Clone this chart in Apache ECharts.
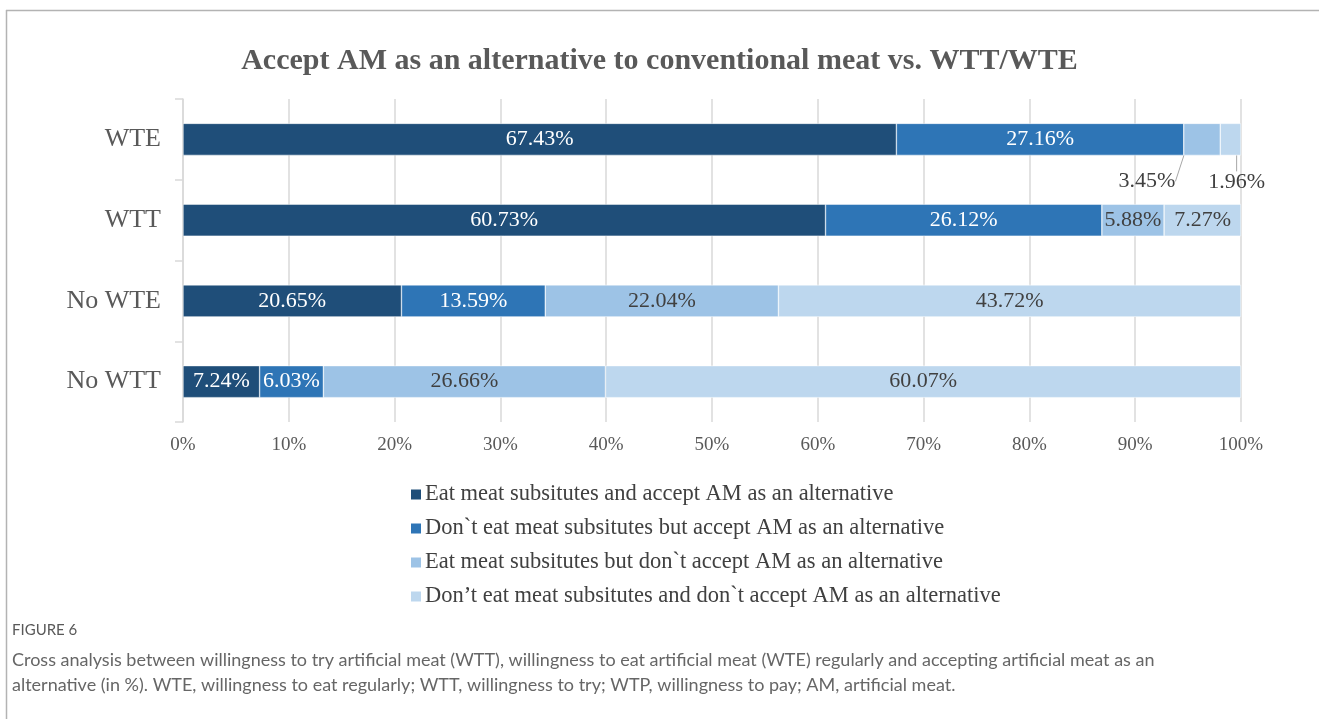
<!DOCTYPE html>
<html>
<head>
<meta charset="utf-8">
<title>Accept AM vs. WTT/WTE</title>
<script src="https://cdn.jsdelivr.net/npm/echarts@6/dist/echarts.min.js"></script>
<style>
  html, body { margin: 0; padding: 0; background: #fff; }
  #main { width: 1319px; height: 719px; }
</style>
</head>
<body>
<div id="main"></div>
<script>
// categories, bottom to top as drawn
var groups = ['No WTT', 'No WTE', 'WTT', 'WTE'];
var seriesNames = [
  'Eat meat subsitutes and accept AM as an alternative',
  'Don`t eat meat subsitutes but accept AM as an alternative',
  'Eat meat subsitutes but don`t accept AM as an alternative',
  'Don\u2019t eat meat subsitutes and don`t accept AM as an alternative'
];
var eatAccept = [7.24, 20.65, 60.73, 67.43];
var noEatAccept = [6.03, 13.59, 26.12, 27.16];
var eatNoAccept = [26.66, 22.04, 5.88, 3.45];
var noEatNoAccept = [60.07, 43.72, 7.27, 1.96];
var xTicks = [0, 10, 20, 30, 40, 50, 60, 70, 80, 90, 100];

var colors = ['#1f4e79', '#2e75b6', '#9dc3e6', '#bdd7ee'];
var serif = '"Liberation Serif", "DejaVu Serif", serif';

var chart = echarts.init(document.getElementById('main'));

function makeSeries(idx, values, textColor, layout) {
  var s = {
    name: seriesNames[idx],
    type: 'bar',
    stack: 'total',
    barWidth: 32,
    data: values,
    itemStyle: { color: colors[idx], borderColor: '#fff', borderWidth: 0.5 },
    label: {
      show: true,
      position: 'inside',
      color: textColor,
      fontFamily: serif,
      fontSize: 22,
      formatter: function(p) { return p.value.toFixed(2) + '%'; }
    },
    emphasis: { disabled: true }
  };
  if (layout) {
    s.labelLayout = layout;
    s.labelLine = { show: true, lineStyle: { color: '#a6a6a6', width: 1 } };
  }
  return s;
}

// small WTE segments get their labels pulled below the bar with a leader line
function smallLayout3(p) {
  if (p.dataIndex !== 3) return;
  var r = p.rect, cx = r.x + r.width / 2, by = r.y + r.height;
  return {
    dx: -55, dy: 42,
    labelLinePoints: [[cx, by], [cx - 5, by + 23], [cx - 14, by + 23]]
  };
}
function smallLayout4(p) {
  if (p.dataIndex !== 3) return;
  var r = p.rect, ex = r.x + r.width, my = r.y + r.height / 2;
  return {
    dx: 6, dy: 43,
    labelLinePoints: [[ex, my], [ex + 2, my + 13], [ex + 4, my + 26]]
  };
}

var option = {
  animation: false,
  color: colors,
  title: {
    text: 'Accept AM as an alternative to conventional meat vs. WTT/WTE',
    left: 'center',
    top: 41,
    textStyle: { fontFamily: serif, fontSize: 30, fontWeight: 'bold', color: '#595959' }
  },
  grid: { left: 183, right: 78, top: 99, bottom: 297, containLabel: false },
  xAxis: {
    type: 'value',
    min: 0,
    max: 100,
    interval: 10,
    axisLine: { show: false },
    axisTick: { show: false },
    splitLine: { lineStyle: { color: '#d9d9d9', width: 1.5 } },
    axisLabel: {
      margin: 14,
      color: '#595959',
      fontFamily: serif,
      fontSize: 19,
      formatter: '{value}%'
    },
    data: xTicks
  },
  yAxis: {
    type: 'category',
    data: groups,
    axisLine: { show: true, lineStyle: { color: '#d9d9d9', width: 1.5 } },
    axisTick: { show: true, length: 8, lineStyle: { color: '#d9d9d9', width: 1.5 } },
    axisLabel: { margin: 22, color: '#595959', fontFamily: serif, fontSize: 26 }
  },
  legend: {
    orient: 'vertical',
    left: 404,
    top: 478,
    itemWidth: 12,
    itemHeight: 12,
    itemGap: 11,
    icon: 'rect',
    selectedMode: false,
    textStyle: { color: '#404040', fontFamily: serif, fontSize: 22.5, lineHeight: 22.5, padding: [0, 0, 0, -2] },
    data: seriesNames
  },
  graphic: [
    { type: 'line', shape: { x1: 6, y1: 10.5, x2: 1319, y2: 10.5 }, style: { stroke: '#b3b3b3', lineWidth: 1.5 } },
    { type: 'line', shape: { x1: 6.5, y1: 10, x2: 6.5, y2: 719 }, style: { stroke: '#b3b3b3', lineWidth: 1.5 } },
    {
      type: 'text', left: 12, top: 623,
      style: { text: 'FIGURE 6', fill: '#595959', font: '15px Lato, "Open Sans", sans-serif' }
    },
    {
      type: 'text', left: 12, top: 648,
      style: {
        text: 'Cross analysis between willingness to try artificial meat (WTT), willingness to eat artificial meat (WTE) regularly and accepting artificial meat as an\nalternative (in %). WTE, willingness to eat regularly; WTT, willingness to try; WTP, willingness to pay; AM, artificial meat.',
        fill: '#666666',
        font: '18px Lato, "Open Sans", sans-serif',
        lineHeight: 25
      }
    }
  ],
  series: [
    makeSeries(0, eatAccept, '#ffffff'),
    makeSeries(1, noEatAccept, '#ffffff'),
    makeSeries(2, eatNoAccept, '#404040', smallLayout3),
    makeSeries(3, noEatNoAccept, '#404040', smallLayout4)
  ]
};

chart.setOption(option);
</script>
</body>
</html>
